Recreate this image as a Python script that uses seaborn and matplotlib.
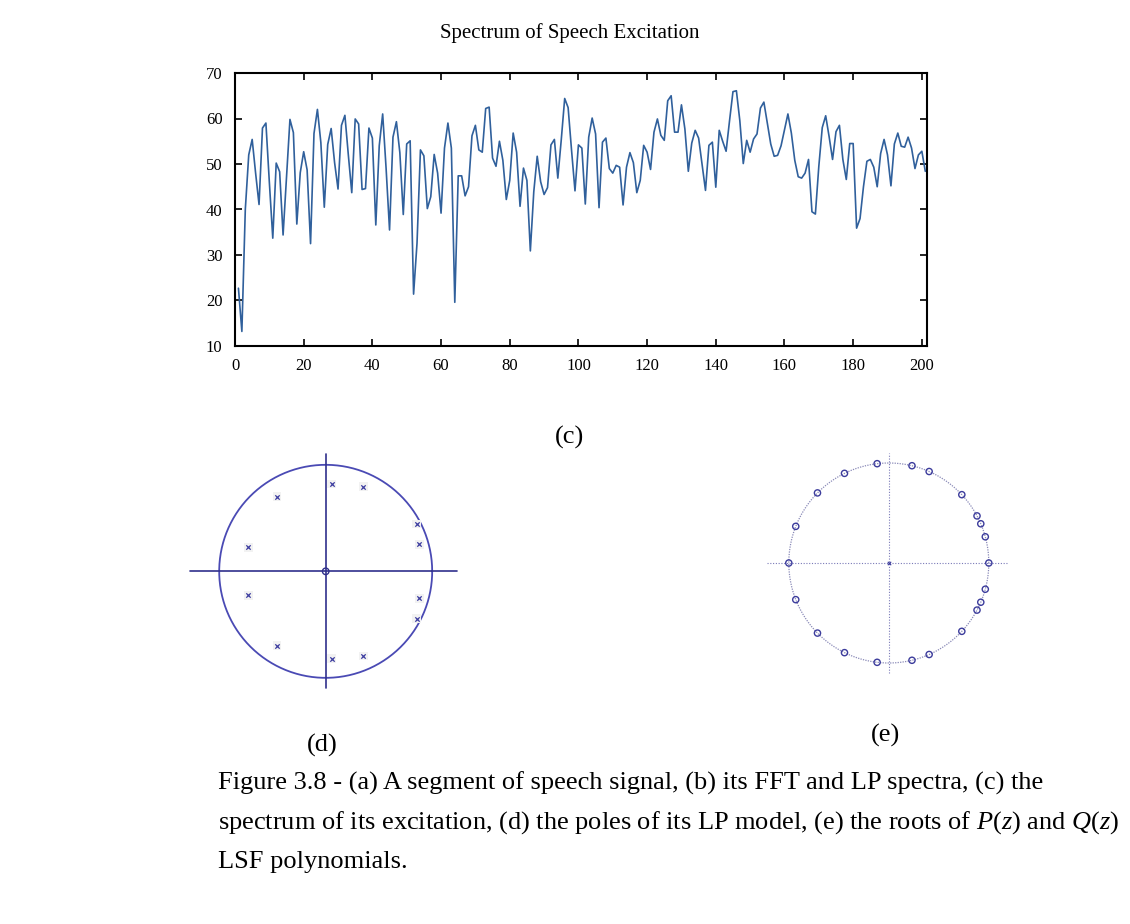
import numpy as np
import pandas as pd
import matplotlib
matplotlib.use("Agg")
import matplotlib.pyplot as plt
import seaborn as sns

# ---------------- data ----------------
sample_index = list(range(1, 202))
excitation_db = [
    22.7, 13.2, 40.0, 52.0, 55.4, 48.0, 41.1, 57.9, 59.0, 46.0,
    33.7, 50.2, 48.3, 34.4, 47.0, 59.8, 56.9, 36.8, 48.1, 52.7,
    48.7, 32.5, 56.7, 62.0, 54.7, 40.5, 54.3, 57.8, 50.3, 44.5,
    58.5, 60.7, 52.0, 43.7, 59.9, 58.8, 44.4, 44.6, 57.9, 55.7,
    36.6, 54.0, 61.0, 49.0, 35.5, 55.9, 59.3, 52.5, 38.9, 54.4,
    55.1, 21.4, 32.6, 53.1, 51.8, 40.2, 42.8, 52.1, 48.0, 39.2,
    53.5, 59.0, 53.5, 19.6, 47.4, 47.4, 43.0, 45.0, 56.2, 58.5,
    53.1, 52.6, 62.2, 62.5, 51.3, 49.5, 55.0, 50.8, 42.2, 46.4,
    56.8, 52.6, 40.7, 49.1, 46.4, 30.9, 43.9, 51.7, 46.1, 43.3,
    44.8, 54.2, 55.4, 46.9, 55.3, 64.4, 62.4, 53.0, 44.1, 54.2,
    53.5, 41.2, 55.9, 60.1, 56.6, 40.4, 54.8, 55.7, 49.0, 48.0,
    49.7, 49.3, 41.0, 49.3, 52.5, 50.3, 43.7, 46.4, 54.1, 52.6,
    48.8, 57.0, 59.9, 56.3, 55.2, 63.9, 65.0, 57.0, 57.0, 63.0,
    57.7, 48.4, 54.6, 57.4, 55.7, 50.0, 44.2, 54.1, 54.8, 44.9,
    57.4, 55.0, 52.8, 59.5, 65.9, 66.1, 59.5, 50.1, 55.2, 52.6,
    55.5, 56.6, 62.3, 63.6, 59.0, 54.4, 51.7, 51.9, 54.0, 57.5,
    61.0, 56.8, 50.8, 47.2, 46.9, 48.0, 51.0, 39.5, 39.0, 49.5,
    58.0, 60.6, 56.0, 51.0, 57.1, 58.5, 51.0, 46.6, 54.5, 54.5,
    35.9, 38.0, 45.0, 50.6, 51.0, 49.3, 45.0, 52.3, 55.4, 52.0,
    45.2, 54.4, 56.8, 53.9, 53.7, 55.9, 53.5, 49.0, 52.0, 52.8,
    48.4,
]
x_ticks = [0, 20, 40, 60, 80, 100, 120, 140, 160, 180, 200]
y_ticks = [10, 20, 30, 40, 50, 60, 70]

# LP poles (upper half plane; conjugates mirrored)
pole_re = [0.056, 0.353, -0.457, 0.854, 0.879, -0.727]
pole_im = [0.820, 0.794, 0.700, 0.444, 0.253, 0.225]
zero_re = [0.0]
zero_im = [0.0]

# LSF roots angles in degrees (upper half; mirrored)
lsf_angles_deg = [0.0, 15.2, 23.1, 28.1, 43.1, 66.2, 76.6, 96.7, 116.3, 135.5, 158.5, 180.0]

title_text = "Spectrum of Speech Excitation"
caption_lines = [
    "Figure 3.8 - (a) A segment of speech signal, (b) its FFT and LP spectra, (c) the",
    r"spectrum of its excitation, (d) the poles of its LP model, (e) the roots of $P$($z$) and $Q$($z$)",
    "LSF polynomials.",
]

# ---------------- style ----------------
sns.set_theme(style="white")
plt.rcParams["font.family"] = ["Liberation Serif", "DejaVu Serif"]
plt.rcParams["mathtext.fontset"] = "custom"
plt.rcParams["mathtext.rm"] = "Liberation Serif"
plt.rcParams["mathtext.it"] = "Liberation Serif:italic"
plt.rcParams["text.color"] = "black"

W, H = 1130, 924
fig = plt.figure(figsize=(W / 100, H / 100), dpi=100)
fig.patch.set_facecolor("white")


def fx(px):
    return px / W


def fy(py):
    return 1 - py / H


# ---------------- (c) spectrum ----------------
ax = fig.add_axes([fx(235), fy(346), fx(692), 273 / H])
df = pd.DataFrame({"n": sample_index, "mag": excitation_db})
sns.lineplot(data=df, x="n", y="mag", ax=ax, color="#30609c", linewidth=1.2)
ax.set_xlim(0, 201.5)
ax.set_ylim(10, 70)
ax.set_xticks(x_ticks)
ax.set_yticks(y_ticks)
ax.set_xlabel("")
ax.set_ylabel("")
ax.tick_params(direction="in", top=True, right=True, bottom=True, left=True,
               length=5, width=1.2, labelsize=12, colors="black")
ax.tick_params(axis="x", pad=9)
ax.tick_params(axis="y", pad=9)
for s in ax.spines.values():
    s.set_visible(True)
    s.set_color("black")
    s.set_linewidth(1.5)
fig.text(fx(570), fy(33), title_text, ha="center", va="center", fontsize=15,
         color="black")
fig.text(fx(570), fy(437), "(c)", ha="center", va="center", fontsize=19,
         color="black")

# ---------------- (d) LP poles ----------------
axd = fig.add_axes([fx(180), fy(700), fx(290), 255 / H])
axd.set_xlim(-1.368, 1.355)
axd.set_ylim(-1.208, 1.186)
axd.axis("off")
theta = np.linspace(0, 2 * np.pi, 500)
axd.plot(np.cos(theta), np.sin(theta), color="#4a4ab4", lw=1.3)
axd.plot([-1.274, 1.23], [0, 0], color="#30308c", lw=1.2)
axd.plot([0, 0], [-1.10, 1.10], color="#30308c", lw=1.2)
pre = pole_re + pole_re
pim = pole_im + [-v for v in pole_im]
sns.scatterplot(x=pre, y=pim, ax=axd, marker="s", s=40, color="#f2f2f2",
                edgecolor="none", zorder=2)
sns.scatterplot(x=pre, y=pim, ax=axd, marker="x", s=10, color="#3c3ca0",
                linewidth=0.9, zorder=3)
sns.scatterplot(x=zero_re, y=zero_im, ax=axd, marker="o", s=22,
                facecolor="none", edgecolor="#30308c", linewidth=1.0, zorder=4)
fig.text(fx(322), fy(745), "(d)", ha="center", va="center", fontsize=19,
         color="black")

# ---------------- (e) LSF roots ----------------
axe = fig.add_axes([fx(750), fy(685), fx(270), 240 / H])
axe.set_xlim(-1.388, 1.312)
axe.set_ylim(-1.22, 1.18)
axe.axis("off")
axe.plot(np.cos(theta), np.sin(theta), color="#8a8ab8", lw=0.9, ls=(0, (1, 1)))
axe.plot([-1.215, 1.18], [0, 0], color="#7a7ab8", lw=0.8, ls=(0, (1, 1.5)))
axe.plot([0, 0], [-1.10, 1.10], color="#7a7ab8", lw=0.8, ls=(0, (1, 1.5)))
ang = np.deg2rad(np.array(lsf_angles_deg + [-a for a in lsf_angles_deg[1:-1]]))
sns.scatterplot(x=np.cos(ang), y=np.sin(ang), ax=axe, marker="o", s=20,
                facecolor="none", edgecolor="#3c3c9c", linewidth=1.0, zorder=3)
sns.scatterplot(x=zero_re, y=zero_im, ax=axe, marker="x", s=6, color="#3c3c9c",
                linewidth=0.8, zorder=3)
fig.text(fx(885), fy(735), "(e)", ha="center", va="center", fontsize=19,
         color="black")

# ---------------- caption ----------------
for line, py in zip(caption_lines, [783, 823, 862]):
    fig.text(fx(218), fy(py), line, ha="left", va="center", fontsize=19,
             color="black")

fig.savefig("out.png", dpi=100)
